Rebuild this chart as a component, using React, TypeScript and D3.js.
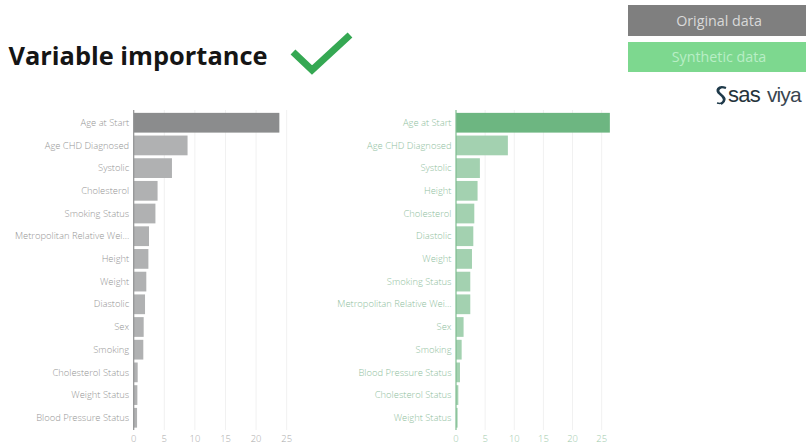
import React from "react";
import * as d3 from "d3";

const originalVariables = [
  "Age at Start", "Age CHD Diagnosed", "Systolic", "Cholesterol", "Smoking Status",
  "Metropolitan Relative Wei...", "Height", "Weight", "Diastolic", "Sex", "Smoking",
  "Cholesterol Status", "Weight Status", "Blood Pressure Status",
];
const originalImportance = [23.8, 8.8, 6.25, 3.9, 3.55, 2.5, 2.4, 2.06, 1.85, 1.63, 1.57, 0.65, 0.6, 0.55];

const syntheticVariables = [
  "Age at Start", "Age CHD Diagnosed", "Systolic", "Height", "Cholesterol", "Diastolic",
  "Weight", "Smoking Status", "Metropolitan Relative Wei...", "Sex", "Smoking",
  "Blood Pressure Status", "Cholesterol Status", "Weight Status",
];
const syntheticImportance = [26.4, 8.9, 4.1, 3.7, 3.14, 2.97, 2.74, 2.45, 2.45, 1.3, 0.97, 0.68, 0.4, 0.28];

const axisTicks = [0, 5, 10, 15, 20, 25];
const FONT = "'Open Sans', sans-serif";

type PanelProps = {
  variables: string[];
  values: number[];
  x0: number;
  x25: number;
  topFill: string;
  fill: string;
  axisColor: string;
  labelColor: string;
  tickColor: string;
};

function Panel({ variables, values, x0, x25, topFill, fill, axisColor, labelColor, tickColor }: PanelProps) {
  const x = d3.scaleLinear().domain([0, 25]).range([x0, x25]);
  const y = d3.scaleBand().domain(variables).range([111.5, 429]).paddingInner(0.13).paddingOuter(0.06);
  const top = 110;
  const bottom = 430;
  return (
    <g fontFamily={FONT}>
      {axisTicks.slice(1).map((t) => (
        <line key={t} x1={x(t)} x2={x(t)} y1={top} y2={bottom} stroke="#f1f1f1" strokeWidth={1} />
      ))}
      {variables.map((name, i) => (
        <rect
          key={name}
          x={x(0)}
          y={y(name)}
          width={x(values[i]) - x(0)}
          height={y.bandwidth()}
          fill={i === 0 ? topFill : fill}
        />
      ))}
      <line x1={x(0)} x2={x(0)} y1={top} y2={bottom} stroke={axisColor} strokeWidth={1.2} />
      {variables.map((name) => (
        <text
          key={name}
          x={x(0) - 4.5}
          y={y(name)! + y.bandwidth() / 2 + 3.2}
          textAnchor="end"
          fontSize={9.4}
          fontWeight={300}
          fill={labelColor}
        >
          {name}
        </text>
      ))}
      {axisTicks.map((t) => (
        <text key={t} x={x(t)} y={442} textAnchor="middle" fontSize={9.4} fontWeight={300} fill={tickColor}>
          {t}
        </text>
      ))}
    </g>
  );
}

export default function App() {
  return (
    <svg
      width={806}
      height={444}
      viewBox="0 0 806 444"
      style={{ position: "fixed", left: 0, top: 0, background: "#ffffff", display: "block" }}
    >
      <text x={8.5} y={65} fontFamily={FONT} fontWeight={700} fontSize={25.4} fill="#151515">
        Variable importance
      </text>
      <polyline
        points="293,52 312,70 350,35"
        fill="none"
        stroke="#35a853"
        strokeWidth={7}
      />

      <rect x={628} y={5} width={178} height={31} fill="#7f7f7f" />
      <text x={719} y={25.5} textAnchor="middle" fontFamily={FONT} fontSize={14.3} fill="#d9d9d9">
        Original data
      </text>
      <rect x={628} y={42} width={178} height={30} fill="#7dd88f" />
      <text x={719} y={62} textAnchor="middle" fontFamily={FONT} fontSize={14.3} fill="#b9eec6">
        Synthetic data
      </text>

      {/* SAS wordmark: two interlocking strokes followed by the product name */}
      <g fill="none" stroke="#1f3a4a">
        <path d="M726,88 C718,85 715,91 720,94 C724,97 726,101 721,104" strokeWidth={2.2} />
        <path d="M722,87 C716,90 719,93 723,96 C727,99 724,105 717,103" strokeWidth={1.4} />
      </g>
      <text x={728} y={102} fontFamily="'Liberation Sans', sans-serif" fontSize={22} letterSpacing={-0.7} fill="#26343c">
        sas
      </text>
      <text x={767} y={102} fontFamily="'Liberation Sans', sans-serif" fontSize={21} letterSpacing={-0.9} fill="#3a4650">
        viya
      </text>

      <Panel
        variables={originalVariables}
        values={originalImportance}
        x0={133.7}
        x25={286.7}
        topFill="#8b8c8d"
        fill="#b0b1b2"
        axisColor="#909192"
        labelColor="#959595"
        tickColor="#a8a8a8"
      />
      <Panel
        variables={syntheticVariables}
        values={syntheticImportance}
        x0={456}
        x25={601.7}
        topFill="#6db681"
        fill="#a3d1b0"
        axisColor="#7fbd90"
        labelColor="#8fc09e"
        tickColor="#9cc9a9"
      />
    </svg>
  );
}
